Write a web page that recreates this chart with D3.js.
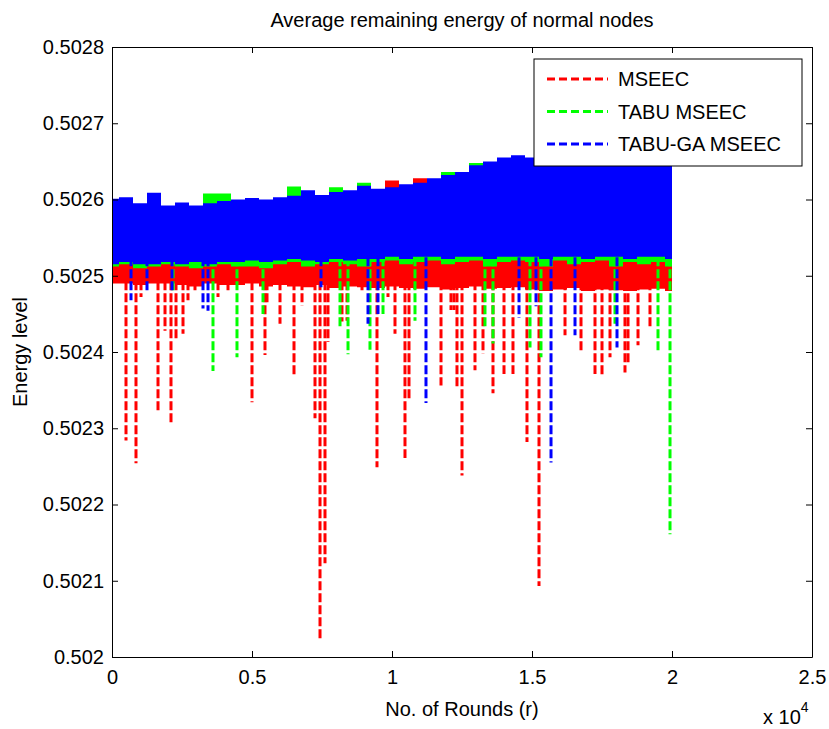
<!DOCTYPE html>
<html>
<head>
<meta charset="utf-8">
<script src="https://cdn.jsdelivr.net/npm/d3@7"></script>
<style>
  body { margin: 0; background: #fff; }
  svg { display: block; font-family: "Liberation Sans", Arial, sans-serif; }
  .axis text { font-size: 20px; fill: #000; }
  .axis path, .axis line { stroke: #000; stroke-width: 1; }
</style>
</head>
<body>
<svg id="chart" width="829" height="729"></svg>
<script>
// sample grid of the dense band (rounds)
const rounds = d3.range(0, 20001, 500);

// band envelopes, one value per 500 rounds
const blueHi = [
  0.502601, 0.502603, 0.502595, 0.502609, 0.502592, 0.502596, 0.502592, 0.502595, 0.502598, 0.502600,
  0.502602, 0.502600, 0.502603, 0.502605, 0.502612, 0.502606, 0.502610, 0.502612, 0.502618, 0.502614,
  0.502616, 0.502620, 0.502622, 0.502628, 0.502632, 0.502636, 0.502645, 0.502650, 0.502655, 0.502658,
  0.502655, 0.502655, 0.502655, 0.502655, 0.502655, 0.502655, 0.502655, 0.502655, 0.502655, 0.502655,
  0.502655
];
const blueLo = [
  0.502515, 0.502518, 0.502515, 0.502515, 0.502518, 0.502515, 0.502518, 0.502515, 0.502518, 0.502518,
  0.502520, 0.502518, 0.502520, 0.502522, 0.502520, 0.502518, 0.502522, 0.502520, 0.502522, 0.502522,
  0.502525, 0.502522, 0.502525, 0.502525, 0.502522, 0.502525, 0.502525, 0.502522, 0.502525, 0.502525,
  0.502525, 0.502522, 0.502525, 0.502525, 0.502522, 0.502525, 0.502525, 0.502522, 0.502525, 0.502525,
  0.502522
];
const greenHi = [
  0.502595, 0.502590, 0.502588, 0.502600, 0.502588, 0.502592, 0.502590, 0.502608, 0.502608, 0.502598,
  0.502598, 0.502598, 0.502600, 0.502617, 0.502605, 0.502604, 0.502616, 0.502610, 0.502622, 0.502612,
  0.502614, 0.502618, 0.502620, 0.502626, 0.502636, 0.502634, 0.502648, 0.502648, 0.502652, 0.502652,
  0.502650, 0.502650, 0.502650, 0.502650, 0.502650, 0.502650, 0.502650, 0.502650, 0.502650, 0.502650,
  0.502650
];
const greenLo = [
  0.502512, 0.502515, 0.502510, 0.502512, 0.502515, 0.502512, 0.502510, 0.502512, 0.502515, 0.502512,
  0.502512, 0.502510, 0.502515, 0.502518, 0.502512, 0.502515, 0.502518, 0.502515, 0.502512, 0.502518,
  0.502520, 0.502515, 0.502518, 0.502520, 0.502515, 0.502518, 0.502520, 0.502512, 0.502518, 0.502520,
  0.502518, 0.502512, 0.502520, 0.502515, 0.502518, 0.502520, 0.502512, 0.502518, 0.502515, 0.502518,
  0.502512
];
const redHi = [
  0.502580, 0.502580, 0.502580, 0.502590, 0.502580, 0.502580, 0.502580, 0.502580, 0.502590, 0.502580,
  0.502580, 0.502590, 0.502590, 0.502590, 0.502590, 0.502590, 0.502600, 0.502600, 0.502605, 0.502612,
  0.502625, 0.502615, 0.502628, 0.502620, 0.502620, 0.502630, 0.502630, 0.502630, 0.502630, 0.502630,
  0.502630, 0.502630, 0.502630, 0.502630, 0.502630, 0.502630, 0.502630, 0.502630, 0.502630, 0.502630,
  0.502630
];
const redLo = [
  0.502490, 0.502490, 0.502488, 0.502490, 0.502490, 0.502488, 0.502486, 0.502490, 0.502488, 0.502488,
  0.502490, 0.502486, 0.502488, 0.502486, 0.502485, 0.502488, 0.502484, 0.502486, 0.502485, 0.502484,
  0.502486, 0.502484, 0.502483, 0.502485, 0.502482, 0.502484, 0.502486, 0.502483, 0.502484, 0.502485,
  0.502482, 0.502480, 0.502482, 0.502484, 0.502480, 0.502482, 0.502481, 0.502480, 0.502482, 0.502483,
  0.502480
];

// downward spikes: [round, minimum energy]
const redDips = [
  [500, 0.502284], [857, 0.502254], [1036, 0.502472], [1643, 0.502321], [1893, 0.502428],
  [2107, 0.502305], [2286, 0.502418], [2536, 0.502424], [2714, 0.502468], [2964, 0.502481],
  [3786, 0.502472], [4143, 0.502481], [5000, 0.502334], [5464, 0.502396], [5536, 0.502464],
  [6000, 0.502437], [6500, 0.502368], [6786, 0.502461], [7250, 0.502313], [7429, 0.502023],
  [7607, 0.502123], [7714, 0.502413], [8214, 0.502440], [8393, 0.502441], [8929, 0.502480],
  [9464, 0.502249], [9857, 0.502472], [10107, 0.502424], [10464, 0.502261], [10607, 0.502337],
  [11750, 0.502356], [12107, 0.502455], [12214, 0.502455], [12321, 0.502354], [12500, 0.502238],
  [12964, 0.502376], [13250, 0.502398], [13607, 0.502346], [14000, 0.502371], [14321, 0.502371],
  [14821, 0.502282], [15250, 0.502093], [16179, 0.502422], [16750, 0.502400], [17250, 0.502371],
  [17500, 0.502368], [17786, 0.502393], [18321, 0.502373], [18429, 0.502385], [18786, 0.502409],
  [19214, 0.502430]
];
const greenDips = [
  [2179, 0.502481], [3607, 0.502375], [4464, 0.502393], [5393, 0.502450], [8143, 0.502430],
  [8429, 0.502397], [9214, 0.502403], [9679, 0.502450], [10821, 0.502441], [13321, 0.502430],
  [13607, 0.502411], [14929, 0.502406], [15321, 0.502393], [17964, 0.502437], [19500, 0.502400],
  [19929, 0.502161]
];
const blueDips = [
  [679, 0.502468], [1250, 0.502481], [2143, 0.502477], [3250, 0.502457], [3429, 0.502454],
  [7464, 0.502485], [9143, 0.502437], [9500, 0.502450], [11214, 0.502333], [14536, 0.502445],
  [15143, 0.502460], [15679, 0.502255], [16536, 0.502422], [18036, 0.502406]
];

const seriesNames = ["MSEEC", "TABU MSEEC", "TABU-GA MSEEC"];
const seriesColors = ["#ff0000", "#00ff00", "#0000ff"];

const xTicks = [0, 5000, 10000, 15000, 20000, 25000];
const xTickLabels = ["0", "0.5", "1", "1.5", "2", "2.5"];
const yTicks = [0.502, 0.5021, 0.5022, 0.5023, 0.5024, 0.5025, 0.5026, 0.5027, 0.5028];
const yTickLabels = ["0.502", "0.5021", "0.5022", "0.5023", "0.5024", "0.5025", "0.5026", "0.5027", "0.5028"];

const svg = d3.select("#chart");
const plotLeft = 112, plotRight = 812, plotTop = 47, plotBottom = 657;

const x = d3.scaleLinear().domain([0, 25000]).range([plotLeft, plotRight]);
const y = d3.scaleLinear().domain([0.502, 0.5028]).range([plotBottom, plotTop]);

const plot = svg.append("g");

const series = [
  { hi: redHi, lo: redLo, dips: redDips },
  { hi: greenHi, lo: greenLo, dips: greenDips },
  { hi: blueHi, lo: blueLo, dips: blueDips }
];

const band = d3.area()
  .curve(d3.curveStep)
  .x((d, i) => x(rounds[i]))
  .y0(d => y(d[1]))
  .y1(d => y(d[0]));

series.forEach((s, k) => {
  const color = seriesColors[k];
  plot.append("path")
    .datum(s.hi.map((v, i) => [v, s.lo[i]]))
    .attr("d", band)
    .attr("fill", color);

  plot.selectAll(null)
    .data(s.dips)
    .join("line")
    .attr("x1", d => x(d[0]))
    .attr("x2", d => x(d[0]))
    .attr("y1", y(0.50254))
    .attr("y2", d => y(d[1]))
    .attr("stroke", color)
    .attr("stroke-width", 3)
    .attr("stroke-dasharray", "9,3");
});

// axes, MATLAB style box with inward ticks
svg.append("g")
  .attr("class", "axis")
  .attr("transform", `translate(0,${plotBottom})`)
  .call(d3.axisBottom(x).tickValues(xTicks).tickSizeInner(-6).tickSizeOuter(0)
    .tickPadding(13).tickFormat((d, i) => xTickLabels[i]));

svg.append("g")
  .attr("class", "axis")
  .attr("transform", `translate(${plotLeft},0)`)
  .call(d3.axisLeft(y).tickValues(yTicks).tickSizeInner(-6).tickSizeOuter(0)
    .tickPadding(8).tickFormat((d, i) => yTickLabels[i]));

svg.append("g")
  .attr("class", "axis")
  .attr("transform", `translate(0,${plotTop})`)
  .call(d3.axisTop(x).tickValues(xTicks).tickSizeInner(-6).tickSizeOuter(0).tickFormat(""));

svg.append("g")
  .attr("class", "axis")
  .attr("transform", `translate(${plotRight},0)`)
  .call(d3.axisRight(y).tickValues(yTicks).tickSizeInner(-6).tickSizeOuter(0).tickFormat(""));

// titles
svg.append("text")
  .attr("x", (plotLeft + plotRight) / 2)
  .attr("y", 27)
  .attr("text-anchor", "middle")
  .style("font-size", "20px")
  .text("Average remaining energy of normal nodes");

svg.append("text")
  .attr("x", (plotLeft + plotRight) / 2)
  .attr("y", 716)
  .attr("text-anchor", "middle")
  .style("font-size", "20px")
  .text("No. of Rounds (r)");

svg.append("text")
  .attr("transform", `translate(27,${(plotTop + plotBottom) / 2}) rotate(-90)`)
  .attr("text-anchor", "middle")
  .style("font-size", "20px")
  .text("Energy level");

const expo = svg.append("text")
  .attr("x", 763)
  .attr("y", 724)
  .style("font-size", "20px");
expo.append("tspan").text("x 10");
expo.append("tspan").attr("dy", -12).style("font-size", "14px").text("4");

// legend
const legend = svg.append("g");
legend.append("rect")
  .attr("x", 534).attr("y", 59)
  .attr("width", 268).attr("height", 107)
  .attr("fill", "#fff").attr("stroke", "#000");

const ly = d3.scalePoint().domain(seriesNames).range([79, 144]);
seriesNames.forEach((name, k) => {
  legend.append("line")
    .attr("x1", 547).attr("x2", 608)
    .attr("y1", ly(name)).attr("y2", ly(name))
    .attr("stroke", seriesColors[k])
    .attr("stroke-width", 3)
    .attr("stroke-dasharray", "8,4");
  legend.append("text")
    .attr("x", 618)
    .attr("y", ly(name) + 7)
    .style("font-size", "20px")
    .text(name);
});
</script>
</body>
</html>
